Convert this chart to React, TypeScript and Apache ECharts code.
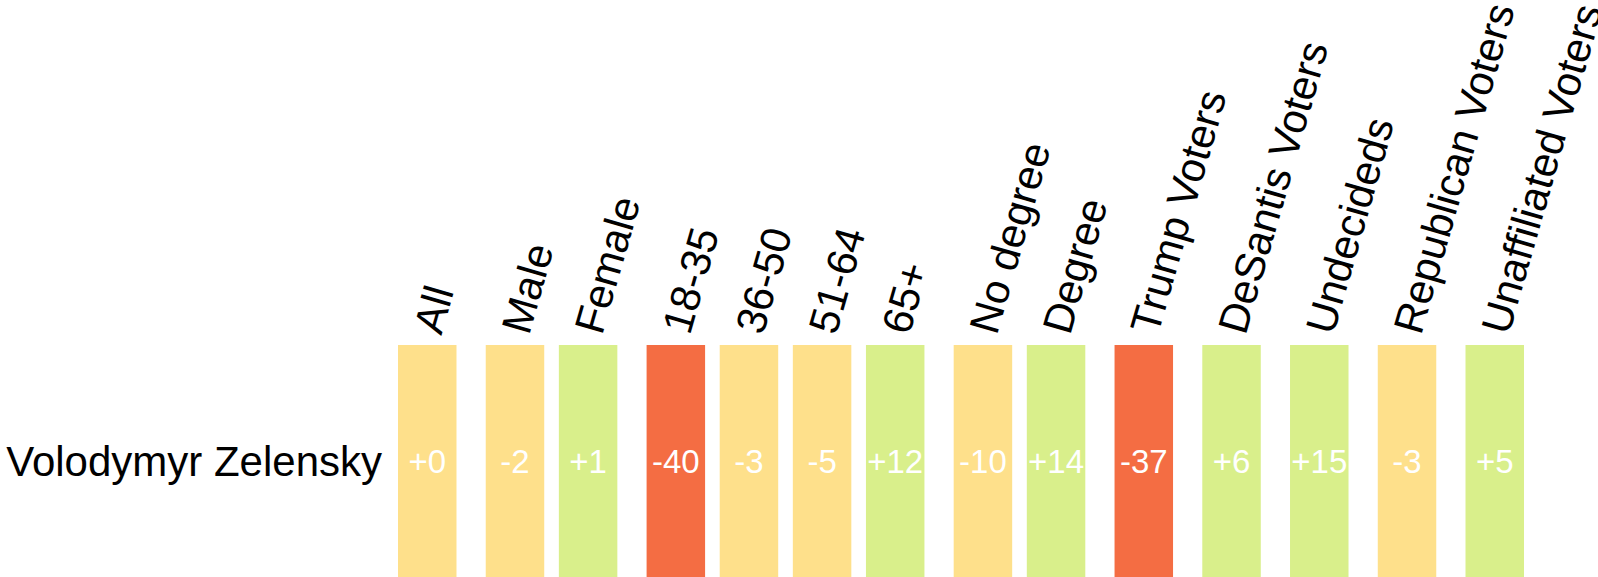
import React, { useEffect, useRef } from "react";
import * as echarts from "echarts";

const rowLabel = "Volodymyr Zelensky";
const categories = [
  "All",
  "Male",
  "Female",
  "18-35",
  "36-50",
  "51-64",
  "65+",
  "No degree",
  "Degree",
  "Trump Voters",
  "DeSantis Voters",
  "Undecideds",
  "Republican Voters",
  "Unaffiliated Voters",
];
const values = [0, -2, 1, -40, -3, -5, 12, -10, 14, -37, 6, 15, -3, 5];
const groups = [0, 1, 1, 2, 2, 2, 2, 3, 3, 4, 5, 6, 7, 8];

const GROUP_GAP = 0.2;
const CELL_W = 0.8;
const FONT = '"Liberation Sans", Arial, Helvetica, sans-serif';

function fmt(v: number): string {
  return v > 0 || v === 0 ? "+" + v : String(v);
}

export default function App() {
  const ref = useRef<HTMLDivElement>(null);
  useEffect(() => {
    if (!ref.current) return;
    const chart = echarts.init(ref.current, null, { renderer: "svg" });
    const data = values.map((v, i) => [i + groups[i] * GROUP_GAP, 0, v, i]);
    const lastPos = data[data.length - 1][0];
    chart.setOption({
      animation: false,
      backgroundColor: "#ffffff",
      grid: { left: 398, right: 74, top: 345, bottom: 0 },
      xAxis: {
        type: "value",
        min: -CELL_W / 2,
        max: lastPos + CELL_W / 2,
        show: false,
      },
      yAxis: {
        type: "category",
        data: [rowLabel],
        axisLine: { show: false },
        axisTick: { show: false },
        splitLine: { show: false },
        axisLabel: {
          fontSize: 42,
          color: "#000000",
          fontFamily: FONT,
          margin: 16,
        },
      },
      visualMap: {
        show: false,
        type: "piecewise",
        dimension: 2,
        pieces: [
          { lt: -20, color: "#f46d43" },
          { gte: -20, lte: 0, color: "#fee08b" },
          { gt: 0, color: "#d9ef8b" },
        ],
      },
      series: [
        {
          type: "custom",
          clip: false,
          data,
          renderItem: (params: any, api: any) => {
            const pos = api.value(0);
            const val = api.value(2);
            const idx = api.value(3);
            const c = api.coord([pos, 0]);
            const size = api.size([CELL_W, 1]);
            const w = size[0];
            const h = size[1];
            const x0 = c[0] - w / 2;
            const y0 = c[1] - h / 2;
            return {
              type: "group",
              children: [
                {
                  type: "rect",
                  shape: { x: x0, y: y0, width: w, height: h },
                  style: { fill: api.visual("color") },
                },
                {
                  type: "text",
                  x: c[0],
                  y: c[1],
                  style: {
                    text: fmt(val),
                    fill: "#ffffff",
                    fontSize: 33,
                    fontFamily: FONT,
                    align: "center",
                    verticalAlign: "middle",
                  },
                },
                {
                  type: "text",
                  x: c[0],
                  y: y0 - 13,
                  rotation: (74 * Math.PI) / 180,
                  style: {
                    text: categories[idx],
                    fill: "#000000",
                    fontSize: 42,
                    fontFamily: FONT,
                    align: "left",
                    verticalAlign: "middle",
                  },
                },
              ],
            };
          },
        },
      ],
    });
    return () => chart.dispose();
  }, []);
  return (
    <div
      ref={ref}
      style={{ position: "absolute", left: 0, top: 0, width: 1598, height: 577 }}
    />
  );
}
